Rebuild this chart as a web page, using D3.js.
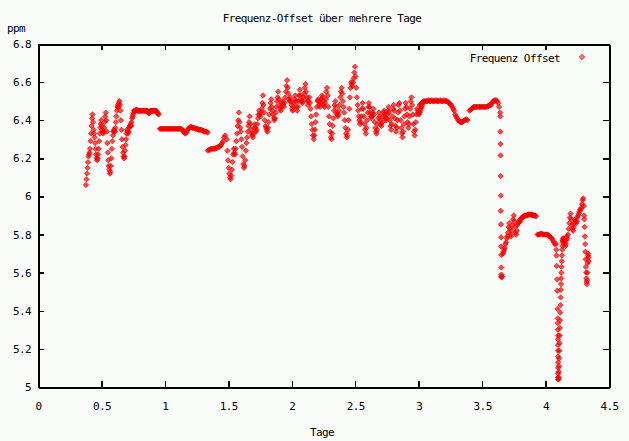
<!DOCTYPE html>
<meta charset="utf-8">
<style>
  body {
    margin: 0;
    background: #f9fcf9;
  }

  text {
    font-family: "DejaVu Sans Mono", monospace;
    font-size: 11px;
    letter-spacing: -0.6px;
    fill: #000;
  }

  .axis path,
  .axis line {
    fill: none;
    stroke: #000;
    shape-rendering: crispEdges;
  }
</style>

<body>
  <script src="https://d3js.org/d3.v7.min.js"></script>

  <script>
    // readings in ppm, each run sampled at a fixed step (days) from its start
    var ppmRun1 = [
      6.06, 6.09, 6.12, 6.15, 6.18, 6.21, 6.22, 6.23,
      6.25, 6.29, 6.33, 6.37, 6.41, 6.43, 6.39, 6.35, 6.33, 6.31,
      6.28, 6.25, 6.22, 6.20, 6.19, 6.20, 6.22, 6.25, 6.29, 6.33,
      6.36, 6.38, 6.40, 6.37, 6.35, 6.34, 6.33, 6.34, 6.36, 6.39, 6.42, 6.44, 6.40, 6.34,
      6.28, 6.23, 6.19, 6.16, 6.14, 6.12, 6.13, 6.16, 6.20, 6.25,
      6.29, 6.32, 6.34, 6.35, 6.34, 6.34, 6.36, 6.39, 6.42, 6.45,
      6.47, 6.48, 6.47, 6.49, 6.50, 6.48, 6.45, 6.40, 6.35, 6.30,
      6.26, 6.23, 6.21, 6.20, 6.21, 6.24, 6.27, 6.30, 6.33, 6.35,
      6.34, 6.33, 6.34, 6.36, 6.37, 6.37, 6.38, 6.37, 6.39, 6.41,
      6.42, 6.43, 6.44, 6.45, 6.45, 6.45, 6.45, 6.455, 6.455, 6.45, 6.45, 6.45,
      6.45, 6.45, 6.45, 6.45, 6.45, 6.45, 6.45, 6.45, 6.45, 6.45, 6.45, 6.45, 6.45, 6.45, 6.45, 6.45, 6.45, 6.45,
      6.445, 6.44, 6.435, 6.44, 6.445,
      6.45, 6.45, 6.45, 6.45, 6.45, 6.45, 6.45, 6.45, 6.45, 6.45, 6.45, 6.45,
      6.445, 6.44, 6.44, 6.435, 6.43
    ];
    var ppmRun2 = [
      6.355, 6.355, 6.355, 6.355, 6.355, 6.355, 6.355, 6.355, 6.355, 6.355, 6.355,
      6.355, 6.355, 6.355, 6.355, 6.355, 6.355, 6.355, 6.355, 6.355, 6.355, 6.355,
      6.35, 6.345, 6.335, 6.33, 6.335, 6.345,
      6.355, 6.36, 6.365, 6.365, 6.36, 6.36, 6.36, 6.355, 6.355,
      6.355, 6.35, 6.35, 6.35, 6.35, 6.345, 6.345, 6.34, 6.34, 6.34, 6.335
    ];
    var ppmRun3 = [
      6.24, 6.245, 6.245, 6.25, 6.25, 6.25, 6.25, 6.25, 6.255,
      6.255, 6.26, 6.26, 6.265, 6.27, 6.28, 6.29, 6.31, 6.32
    ];
    var ppmRun4 = [
      6.30, 6.24, 6.19, 6.15, 6.12, 6.10, 6.09, 6.11,
      6.14, 6.18, 6.22, 6.25, 6.23, 6.22, 6.25, 6.29,
      6.33, 6.37, 6.40, 6.44, 6.39, 6.36, 6.34, 6.30,
      6.26, 6.21, 6.17, 6.15, 6.16, 6.19, 6.24, 6.28,
      6.31, 6.34, 6.37, 6.39, 6.42, 6.38, 6.35, 6.33,
      6.32, 6.31, 6.33, 6.36, 6.38, 6.36, 6.34, 6.35,
      6.38, 6.41, 6.43, 6.45, 6.43, 6.42, 6.44, 6.46,
      6.49, 6.53, 6.48, 6.44, 6.40, 6.37, 6.36, 6.35,
      6.34, 6.36, 6.39, 6.43, 6.46, 6.49, 6.51, 6.47,
      6.45, 6.43, 6.41, 6.40, 6.41, 6.44, 6.47, 6.50,
      6.52, 6.55, 6.51, 6.48, 6.46, 6.45, 6.47, 6.49,
      6.50, 6.48, 6.47, 6.49, 6.52, 6.55, 6.58, 6.61,
      6.57, 6.54, 6.51, 6.50, 6.52, 6.50, 6.48, 6.46,
      6.45, 6.47, 6.49, 6.51, 6.53, 6.50, 6.47, 6.45,
      6.47, 6.50, 6.53, 6.56, 6.53, 6.51, 6.50, 6.49,
      6.50, 6.52, 6.54, 6.57, 6.59, 6.55, 6.52, 6.50,
      6.48, 6.50, 6.52, 6.49, 6.46, 6.42, 6.38, 6.35,
      6.32, 6.30, 6.32, 6.35, 6.39, 6.43, 6.47, 6.50,
      6.51, 6.50, 6.48, 6.47, 6.49, 6.51, 6.53, 6.52
    ];
    var ppmRun5 = [
      6.50, 6.48, 6.47, 6.49, 6.51, 6.55, 6.57, 6.53,
      6.47, 6.42, 6.38, 6.34, 6.31, 6.30, 6.33, 6.37,
      6.41, 6.45, 6.48, 6.50, 6.47, 6.44, 6.43, 6.42,
      6.43, 6.45, 6.48, 6.52, 6.55, 6.57, 6.54, 6.50,
      6.47, 6.44, 6.40, 6.36, 6.33, 6.31, 6.32, 6.35,
      6.40, 6.46, 6.52, 6.57, 6.60, 6.59, 6.58, 6.60,
      6.62, 6.65, 6.68, 6.63, 6.57, 6.52, 6.48, 6.45,
      6.42, 6.40, 6.38, 6.39, 6.42, 6.46, 6.49, 6.46,
      6.42, 6.38, 6.35, 6.33, 6.36, 6.40, 6.44, 6.47,
      6.49, 6.47, 6.44, 6.42, 6.41, 6.42, 6.44, 6.46,
      6.43, 6.39, 6.36, 6.34, 6.33, 6.35, 6.38, 6.41,
      6.44, 6.42, 6.40, 6.38, 6.37, 6.39, 6.42, 6.44,
      6.45, 6.43, 6.41, 6.40, 6.41, 6.43, 6.45, 6.47,
      6.44, 6.40, 6.37, 6.35, 6.38, 6.42, 6.46, 6.48,
      6.45, 6.41, 6.37, 6.34, 6.36, 6.40, 6.44, 6.48,
      6.49, 6.45, 6.40, 6.36, 6.33, 6.31, 6.34, 6.38,
      6.42, 6.46, 6.49, 6.47, 6.43, 6.39, 6.36, 6.38,
      6.42, 6.46, 6.50, 6.52, 6.48, 6.43, 6.38, 6.34,
      6.32, 6.35, 6.39, 6.43, 6.46, 6.45, 6.44, 6.43,
      6.44, 6.45, 6.46, 6.47, 6.48
    ];
    var ppmRun6 = [
      6.48, 6.485, 6.49, 6.495, 6.50, 6.50, 6.50,
      6.50, 6.50, 6.505, 6.50, 6.50, 6.505, 6.50, 6.50, 6.50, 6.505,
      6.50, 6.50, 6.50, 6.505, 6.50, 6.50, 6.50, 6.505, 6.50, 6.50,
      6.50, 6.495, 6.49, 6.485, 6.48, 6.47, 6.46, 6.45,
      6.43, 6.42, 6.41, 6.40, 6.395, 6.39, 6.39, 6.39, 6.395, 6.40, 6.40, 6.405, 6.40
    ];
    var ppmRun7 = [
      6.45, 6.455, 6.46, 6.465, 6.47, 6.47, 6.47, 6.47, 6.47, 6.47, 6.47, 6.47,
      6.47, 6.47, 6.47, 6.47, 6.47, 6.47, 6.475, 6.475, 6.48, 6.48, 6.49, 6.50,
      6.50, 6.505, 6.505, 6.50, 6.49, 6.47, 6.44
    ];
    var ppmRun8 = [
      6.42, 6.34, 6.275, 6.215, 6.107, 6.004, 5.924, 5.854, 5.786, 5.737,
      5.693, 5.627, 5.59, 5.58, 5.575, 5.58
    ];
    var ppmRun9 = [
      5.70, 5.71, 5.72, 5.73, 5.75, 5.76, 5.78, 5.79,
      5.81, 5.84, 5.86, 5.83, 5.80, 5.79, 5.82, 5.85,
      5.88, 5.90, 5.87, 5.84, 5.81, 5.80, 5.82, 5.85,
      5.86, 5.87, 5.865, 5.87, 5.88, 5.885, 5.89, 5.89,
      5.895, 5.895, 5.90, 5.90, 5.90, 5.90, 5.90, 5.905,
      5.905, 5.905, 5.905, 5.905, 5.905, 5.905, 5.905, 5.90,
      5.90, 5.90, 5.90, 5.90, 5.895
    ];
    var ppmRun10 = [
      5.80, 5.80, 5.80, 5.805, 5.805, 5.80, 5.80, 5.80, 5.80,
      5.80, 5.80, 5.795, 5.79, 5.785, 5.78, 5.77, 5.76, 5.75
    ];
    var ppmRun11 = [5.75, 5.72, 5.69, 5.635, 5.565, 5.505, 5.41, 5.36];
    var ppmRun12 = [5.335, 5.30, 5.27, 5.25, 5.22, 5.19, 5.16, 5.13, 5.10, 5.07, 5.05, 5.04];
    var ppmRun13 = [
      5.04, 5.05, 5.08, 5.11, 5.15, 5.19, 5.23, 5.27, 5.31, 5.35, 5.39, 5.43, 5.47,
      5.51, 5.54, 5.57, 5.60, 5.63, 5.66, 5.69, 5.72, 5.74, 5.76, 5.77, 5.78
    ];
    var ppmRun14 = [5.77, 5.78, 5.77, 5.76, 5.74, 5.75, 5.77, 5.79];
    var ppmRun15 = [
      5.78, 5.80, 5.83, 5.86, 5.89, 5.91, 5.88, 5.85, 5.83, 5.82, 5.84, 5.86, 5.88,
      5.87, 5.86, 5.87, 5.89, 5.90, 5.91, 5.92, 5.93, 5.93, 5.94, 5.96, 5.98, 5.99
    ];
    var ppmRun16 = [
      5.95, 5.90, 5.88, 5.84, 5.79, 5.75, 5.71, 5.67, 5.63, 5.60,
      5.57, 5.55, 5.54, 5.56, 5.60, 5.65, 5.69, 5.70, 5.68, 5.66
    ];

    var runStart = [0.378, 0.961, 1.339, 1.488, 2.248, 3.008, 3.402, 3.643, 3.664, 3.937,
      4.082, 4.097, 4.101, 4.140, 4.172, 4.302];
    var runStep = [0.004, 0.008, 0.008, 0.005, 0.005, 0.008, 0.008, 0.0008, 0.005, 0.008,
      0.002, 0.0003, 0.0015, 0.004, 0.005, 0.002];
    var runPpm = [ppmRun1, ppmRun2, ppmRun3, ppmRun4, ppmRun5, ppmRun6, ppmRun7, ppmRun8,
      ppmRun9, ppmRun10, ppmRun11, ppmRun12, ppmRun13, ppmRun14, ppmRun15, ppmRun16];

    var xTicks = [0, 0.5, 1, 1.5, 2, 2.5, 3, 3.5, 4, 4.5];
    var yTicks = [5, 5.2, 5.4, 5.6, 5.8, 6, 6.2, 6.4, 6.6, 6.8];

    var margin = { top: 44, right: 20, bottom: 54, left: 38 },
      width = 629 - margin.left - margin.right,
      height = 441 - margin.top - margin.bottom;

    var root = d3.select("body")
      .append("svg")
      .attr("width", 629)
      .attr("height", 441);

    var svg = root.append("g")
      .attr("transform", "translate(" + margin.left + "," + margin.top + ")");

    var data = [];
    runPpm.forEach(function (list, k) {
      list.forEach(function (v, i) {
        data.push({ day: runStart[k] + i * runStep[k], ppm: v });
      });
    });

    var x = d3.scaleLinear().domain([0, 4.5]).range([0, width]);
    var y = d3.scaleLinear().domain([5, 6.8]).range([height, 0]);
    var fmt = function (d) { return String(+d.toFixed(1)); };

    svg.append("g")
      .attr("class", "axis")
      .attr("transform", "translate(0," + height + ")")
      .call(d3.axisBottom(x).tickValues(xTicks).tickSize(-6).tickSizeOuter(0).tickPadding(15).tickFormat(fmt));
    svg.append("g")
      .attr("class", "axis")
      .call(d3.axisTop(x).tickValues(xTicks).tickSize(-6).tickSizeOuter(0).tickFormat(""));
    svg.append("g")
      .attr("class", "axis")
      .call(d3.axisLeft(y).tickValues(yTicks).tickSize(-6).tickSizeOuter(0).tickPadding(7).tickFormat(fmt));
    svg.append("g")
      .attr("class", "axis")
      .attr("transform", "translate(" + width + ",0)")
      .call(d3.axisRight(y).tickValues(yTicks).tickSize(-6).tickSizeOuter(0).tickFormat(""));

    svg.selectAll(".axis path").style("stroke-width", 2);
    svg.selectAll(".axis line").style("stroke-width", 1.5);
    svg.selectAll(".axis text")
      .style("font-family", "DejaVu Sans Mono, monospace")
      .style("font-size", "11px");

    var diamondType = d3.symbolDiamond2 || d3.symbolDiamond;
    var diamond = d3.symbol().type(diamondType).size(18);

    svg.append("g")
      .selectAll("path")
      .data(data)
      .enter()
      .append("path")
      .attr("d", diamond)
      .attr("transform", function (d) { return "translate(" + x(d.day) + "," + y(d.ppm) + ")"; })
      .style("fill", "#ff0000")
      .style("fill-opacity", 0.7)
      .style("stroke", "#ee0000")
      .style("stroke-width", 0.8)
      .style("stroke-opacity", 0.85);

    // legend
    svg.append("text")
      .attr("x", 522)
      .attr("y", 18)
      .attr("text-anchor", "end")
      .text("Frequenz Offset");
    svg.append("path")
      .attr("d", diamond)
      .attr("transform", "translate(544,13)")
      .style("fill", "#ff0000")
      .style("fill-opacity", 0.5)
      .style("stroke", "#ee0000")
      .style("stroke-width", 0.8);

    // titles
    root.append("text")
      .attr("x", 322)
      .attr("y", 22)
      .attr("text-anchor", "middle")
      .text("Frequenz-Offset über mehrere Tage");
    root.append("text")
      .attr("x", 7)
      .attr("y", 32)
      .text("ppm");
    root.append("text")
      .attr("x", 322)
      .attr("y", 436)
      .attr("text-anchor", "middle")
      .text("Tage");
  </script>
</body>
